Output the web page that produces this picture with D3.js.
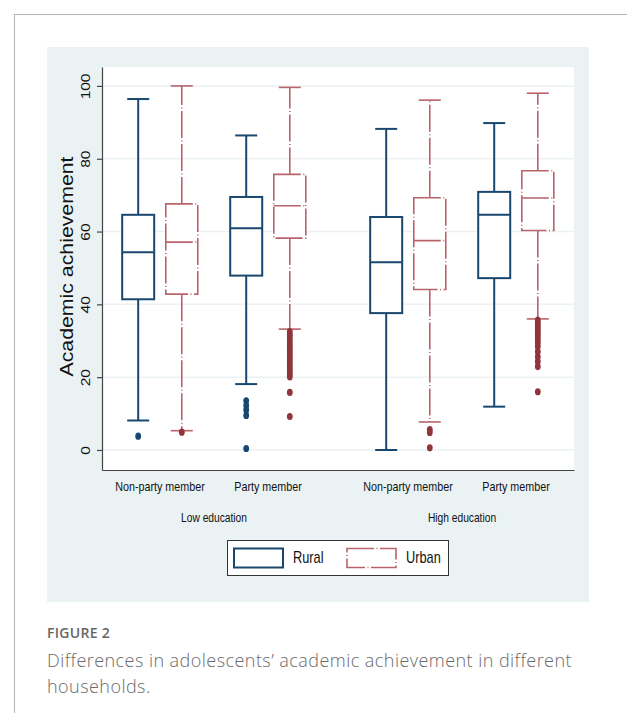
<!DOCTYPE html>
<html>
<head>
<meta charset="utf-8">
<script src="https://cdn.jsdelivr.net/npm/d3@7"></script>
<style>
  html, body { margin: 0; padding: 0; background: #ffffff; }
  svg { display: block; }
</style>
</head>
<body>
<svg id="chart" width="627" height="713"></svg>
<script>
// ---------------- data ----------------
const educations = ["Low education", "High education"];
const parties = ["Non-party member", "Party member"];
const residences = ["Rural", "Urban"];
const yTicks = [0, 20, 40, 60, 80, 100];

// order of each array: Low/Non-party, Low/Party, High/Non-party, High/Party
const ruralLowerWhisker = [8.1, 18.1, 0.0, 11.9];
const ruralQ1           = [41.4, 47.9, 37.6, 47.2];
const ruralMedian       = [54.3, 60.9, 51.6, 64.6];
const ruralQ3           = [64.6, 69.5, 64.0, 70.9];
const ruralUpperWhisker = [96.4, 86.4, 88.2, 89.8];
const ruralOutliers = [
  [3.8],
  [13.5, 12.2, 11.0, 9.5, 0.4],
  [],
  []
];

const urbanLowerWhisker = [5.3, 33.2, 7.7, 36.0];
const urbanQ1           = [42.8, 58.2, 44.1, 60.3];
const urbanMedian       = [57.1, 67.1, 57.5, 69.2];
const urbanQ3           = [67.6, 75.7, 69.3, 76.7];
const urbanUpperWhisker = [100.0, 99.6, 96.1, 98.0];
const urbanOutliers = [
  [4.9],
  [32.5, 31.7, 31.0, 30.2, 29.4, 28.7, 27.9, 27.1, 26.3, 25.6, 24.8, 24.0, 23.2, 22.4, 21.7, 20.9, 20.1, 15.8, 9.2],
  [5.6, 4.8, 0.6],
  [35.7, 35.0, 34.2, 33.4, 32.6, 31.8, 31.0, 30.2, 29.4, 28.4, 27.0, 25.6, 24.3, 22.9, 16.0]
];

const captionLabel = "FIGURE 2";
const captionLines = [
  "Differences in adolescents\u2019 academic achievement in different",
  "households."
];

// ---------------- build table ----------------
const combos = [];
educations.forEach(e => parties.forEach(p => combos.push({ edu: e, party: p })));
const boxes = [];
combos.forEach((c, i) => {
  boxes.push({ ...c, res: "Rural", lo: ruralLowerWhisker[i], q1: ruralQ1[i], med: ruralMedian[i], q3: ruralQ3[i], hi: ruralUpperWhisker[i], out: ruralOutliers[i] });
  boxes.push({ ...c, res: "Urban", lo: urbanLowerWhisker[i], q1: urbanQ1[i], med: urbanMedian[i], q3: urbanQ3[i], hi: urbanUpperWhisker[i], out: urbanOutliers[i] });
});

// ---------------- layout ----------------
const svg = d3.select("#chart");
const plot = { left: 102, right: 574, top: 67, bottom: 470 };

const colors = { Rural: "#1a476f", Urban: "#90353b" };
const lineColor = { Rural: "#1a476f", Urban: "#b9636b" };
const dash = { Rural: null, Urban: "27,2.5,1,2.5" };
const lineW = { Rural: 2, Urban: 1.6 };

// outer article frame
svg.append("rect").attr("x", 14.5).attr("y", 14.5).attr("width", 800).attr("height", 900)
  .attr("fill", "#fff").attr("stroke", "#b5b5b5").attr("stroke-width", 1);

// graph region
svg.append("rect").attr("x", 47).attr("y", 47).attr("width", 542).attr("height", 555)
  .attr("fill", "#eaf2f3");

// plot region
svg.append("rect").attr("x", plot.left).attr("y", plot.top)
  .attr("width", plot.right - plot.left).attr("height", plot.bottom - plot.top)
  .attr("fill", "#ffffff");

// scales
const y = d3.scaleLinear().domain([-5.5, 105.2]).range([plot.bottom, plot.top]);
const xEdu = d3.scaleBand().domain(educations).range([90, 586]).paddingInner(0).paddingOuter(0);
const xParty = d3.scaleBand().domain(parties).range([0, xEdu.bandwidth()]).paddingInner(0).paddingOuter(0.148);
const xRes = d3.scaleBand().domain(residences).range([0, xParty.bandwidth()]).paddingInner(0).paddingOuter(0.2385);
const boxW = 32, capW = 22;
const cx = d => xEdu(d.edu) + xParty(d.party) + xRes(d.res) + xRes.bandwidth() / 2;

// gridlines
svg.append("g").selectAll("line").data(yTicks).join("line")
  .attr("x1", plot.left).attr("x2", plot.right)
  .attr("y1", d => y(d)).attr("y2", d => y(d))
  .attr("stroke", "#eaf2f3").attr("stroke-width", 1.5);

// y axis
const yAxis = svg.append("g").attr("transform", `translate(${plot.left},0)`)
  .call(d3.axisLeft(y).tickValues(yTicks).tickSizeInner(5).tickSizeOuter(0));
yAxis.select(".domain").attr("stroke", "#444").attr("stroke-width", 1.2);
yAxis.selectAll(".tick line").attr("stroke", "#444").attr("stroke-width", 1.2);
yAxis.selectAll(".tick text")
  .attr("x", null).attr("dy", null)
  .attr("transform", "translate(-12,0) rotate(-90) scale(1,0.82)")
  .attr("text-anchor", "middle")
  .attr("font-family", "'Liberation Sans', Arial, sans-serif")
  .attr("font-size", 15.5).attr("fill", "#111");

// x axis baseline
const xAxisScale = d3.scaleLinear().domain([0, 1]).range([plot.left, plot.right]);
const xAxis = svg.append("g").attr("transform", `translate(0,${plot.bottom})`)
  .call(d3.axisBottom(xAxisScale).tickValues([]).tickSizeOuter(0));
xAxis.select(".domain").attr("stroke", "#444").attr("stroke-width", 1.2);

// y title
svg.append("text")
  .attr("transform", `translate(73,${(plot.top + plot.bottom) / 2 - 2}) rotate(-90) scale(1,0.84)`)
  .attr("text-anchor", "middle")
  .attr("font-family", "'Liberation Sans', Arial, sans-serif")
  .attr("font-size", 21.3).attr("fill", "#111")
  .text("Academic achievement");

// ---------------- boxes ----------------
const g = svg.append("g");
const bg = g.selectAll("g.box").data(boxes).join("g").attr("class", "box");

function styleLine(sel) {
  return sel.attr("stroke", d => lineColor[d.res])
    .attr("stroke-width", d => lineW[d.res])
    .attr("stroke-dasharray", d => dash[d.res])
    .attr("fill", "none");
}

// whiskers
bg.append("line").attr("x1", cx).attr("x2", cx)
  .attr("y1", d => y(d.q3)).attr("y2", d => y(d.hi)).call(styleLine);
bg.append("line").attr("x1", cx).attr("x2", cx)
  .attr("y1", d => y(d.q1)).attr("y2", d => y(d.lo)).call(styleLine);
// caps
bg.append("line").attr("x1", d => cx(d) - capW / 2).attr("x2", d => cx(d) + capW / 2)
  .attr("y1", d => y(d.hi)).attr("y2", d => y(d.hi)).call(styleLine);
bg.append("line").attr("x1", d => cx(d) - capW / 2).attr("x2", d => cx(d) + capW / 2)
  .attr("y1", d => y(d.lo)).attr("y2", d => y(d.lo)).call(styleLine);
// box
bg.append("rect").attr("x", d => cx(d) - boxW / 2).attr("width", boxW)
  .attr("y", d => y(d.q3)).attr("height", d => y(d.q1) - y(d.q3))
  .call(styleLine).attr("fill", "#ffffff");
// median
bg.append("line").attr("x1", d => cx(d) - boxW / 2).attr("x2", d => cx(d) + boxW / 2)
  .attr("y1", d => y(d.med)).attr("y2", d => y(d.med)).call(styleLine);
// outliers
bg.each(function (d) {
  d3.select(this).selectAll("ellipse").data(d.out.map(v => ({ v, res: d.res, x: cx(d) }))).join("ellipse")
    .attr("cx", o => o.x).attr("cy", o => y(o.v))
    .attr("rx", 2.9).attr("ry", 3.6)
    .attr("fill", o => colors[o.res]);
});

// ---------------- category labels ----------------
const labelFont = "'Liberation Sans', Arial, sans-serif";
const partyLabels = [];
educations.forEach(e => parties.forEach(p => partyLabels.push({ e, p })));
svg.append("g").selectAll("text").data(partyLabels).join("text")
  .attr("transform", d => `translate(${xEdu(d.e) + xParty(d.p) + xParty.bandwidth() / 2},491) scale(0.84,1)`)
  .attr("text-anchor", "middle").attr("font-family", labelFont)
  .attr("font-size", 12.8).attr("fill", "#111")
  .text(d => d.p);
svg.append("g").selectAll("text").data(educations).join("text")
  .attr("transform", d => `translate(${xEdu(d) + xEdu.bandwidth() / 2},522) scale(0.8,1)`)
  .attr("text-anchor", "middle").attr("font-family", labelFont)
  .attr("font-size", 12.8).attr("fill", "#111")
  .text(d => d);

// ---------------- legend ----------------
const leg = svg.append("g");
leg.append("rect").attr("x", 227.5).attr("y", 540.5).attr("width", 221).attr("height", 35)
  .attr("fill", "#fff").attr("stroke", "#333").attr("stroke-width", 1);
const legX = d3.scaleBand().domain(residences).range([233, 459]).paddingInner(0);
const legItems = leg.selectAll("g.item").data(residences.map(r => ({ res: r }))).join("g").attr("class", "item");
legItems.append("rect")
  .attr("x", d => legX(d.res) + 1).attr("y", 548.5).attr("width", 49).attr("height", 19)
  .call(styleLine).attr("fill", "#fff");
legItems.append("text")
  .attr("transform", d => `translate(${legX(d.res) + 60},563) scale(0.8,1)`)
  .attr("font-family", labelFont).attr("font-size", 16).attr("fill", "#111")
  .text(d => d.res);

// ---------------- caption ----------------
svg.append("text").attr("x", 47).attr("y", 638)
  .attr("font-family", "'Open Sans', Lato, sans-serif").attr("font-size", 14)
  .attr("font-weight", 600).attr("fill", "#666").attr("letter-spacing", 0.3)
  .text(captionLabel);
svg.append("g").selectAll("text").data(captionLines).join("text")
  .attr("x", 47).attr("y", (d, i) => 667 + i * 26)
  .attr("font-family", "'Open Sans', Lato, sans-serif").attr("font-size", 18)
  .attr("font-weight", 300).attr("fill", "#6a6a6a").attr("letter-spacing", 0.45)
  .text(d => d);
</script>
</body>
</html>
